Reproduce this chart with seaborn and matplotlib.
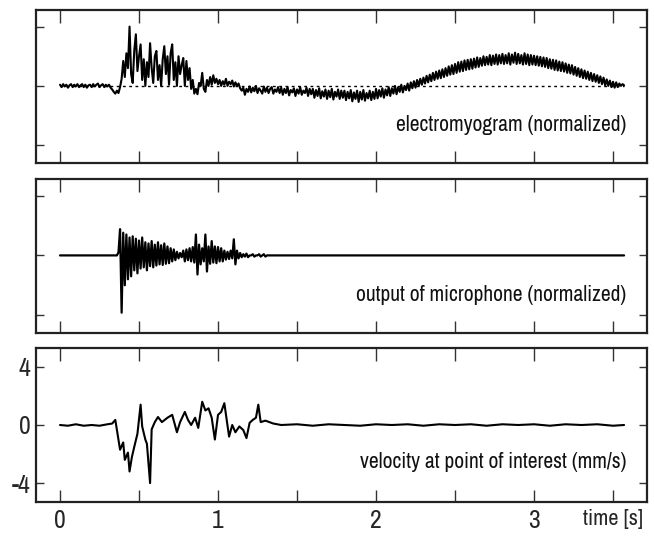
import numpy as np
import pandas as pd
import matplotlib
matplotlib.use("Agg")
import matplotlib.pyplot as plt
import seaborn as sns

# ---------------- data ----------------
emg_dt = 0.01  # sample spacing of the EMG trace [s]
emg_values = [
    0.02, -0.02, 0.03, -0.01, 0.02, -0.03, 0.01, 0.03, -0.02, 0.02, -0.01, 0.03, -0.02, 0.01, 0.03, -0.02, 0.02, -0.03, 0.01, 0.02,
    -0.02, 0.03, -0.01, 0.02, 0.04, -0.02, 0.01, 0.03, -0.02, 0.02, -0.01, 0.02, -0.03, -0.06, -0.10, -0.13, -0.08, -0.12, -0.02, 0.12,
    0.42, 0.15, 0.55, 0.30, 1.00, 0.20, 0.05, 0.60, 0.87, 0.25, 0.50, 0.70, 0.10, 0.45, 0.00, 0.40, 0.15, 0.72, 0.30, 0.05,
    0.50, 0.59, 0.10, 0.35, 0.00, 0.45, 0.67, 0.20, 0.50, 0.02, 0.55, 0.70, 0.10, 0.40, 0.00, 0.50, 0.20, 0.35, 0.47, 0.00,
    0.42, 0.10, 0.30, -0.05, 0.10, -0.13, -0.05, -0.14, 0.05, 0.00, 0.22, -0.05, -0.10, 0.10, 0.00, 0.15, 0.02, 0.18, 0.05, 0.12,
    0.03, 0.10, 0.00, 0.08, 0.02, 0.12, 0.00, 0.07, 0.03, 0.09, -0.01, 0.06, 0.00, 0.04, -0.04, -0.08, -0.03, -0.15, -0.05, -0.10,
    -0.01, -0.11, -0.03, -0.09, 0.00, -0.12, -0.04, -0.08, -0.13, -0.01, -0.10, -0.03, -0.12, -0.05, -0.02, -0.13, -0.06, -0.10, -0.02, -0.12,
    -0.03, -0.15, -0.05, -0.12, -0.02, -0.16, -0.07, -0.11, -0.04, -0.17, -0.06, -0.13, -0.02, -0.15, -0.08, -0.12, -0.03, -0.17, -0.05, -0.14,
    -0.05, -0.20, -0.07, -0.17, -0.04, -0.21, -0.09, -0.18, -0.06, -0.22, -0.08, -0.19, -0.05, -0.23, -0.10, -0.18, -0.06, -0.22, -0.08, -0.20,
    -0.08, -0.24, -0.10, -0.21, -0.07, -0.26, -0.11, -0.22, -0.08, -0.27, -0.10, -0.23, -0.07, -0.25, -0.12, -0.21, -0.08, -0.24, -0.10, -0.22,
    -0.05, -0.21, -0.07, -0.18, -0.04, -0.20, -0.06, -0.16, -0.02, -0.17, -0.04, -0.13, 0.00, -0.14, -0.02, -0.10, 0.02, -0.11, 0.00, -0.07,
    0.04, -0.08, 0.06, -0.04, 0.08, -0.03, 0.10, 0.00, 0.12, 0.02, 0.14, 0.04, 0.17, 0.06, 0.19, 0.08, 0.22, 0.10, 0.24, 0.12,
    0.26, 0.13, 0.28, 0.15, 0.30, 0.17, 0.33, 0.19, 0.35, 0.20, 0.37, 0.22, 0.40, 0.24, 0.41, 0.25, 0.43, 0.27, 0.44, 0.28,
    0.45, 0.29, 0.46, 0.31, 0.48, 0.32, 0.47, 0.34, 0.50, 0.35, 0.49, 0.36, 0.52, 0.35, 0.51, 0.37, 0.53, 0.36, 0.52, 0.38,
    0.54, 0.37, 0.52, 0.38, 0.55, 0.36, 0.53, 0.39, 0.56, 0.37, 0.54, 0.38, 0.52, 0.36, 0.55, 0.37, 0.53, 0.35, 0.52, 0.36,
    0.51, 0.35, 0.50, 0.34, 0.49, 0.33, 0.48, 0.32, 0.47, 0.30, 0.45, 0.29, 0.44, 0.27, 0.43, 0.26, 0.41, 0.25, 0.40, 0.24,
    0.38, 0.22, 0.36, 0.21, 0.35, 0.19, 0.32, 0.17, 0.30, 0.15, 0.28, 0.13, 0.26, 0.12, 0.24, 0.10, 0.22, 0.08, 0.20, 0.07,
    0.18, 0.05, 0.16, 0.03, 0.14, 0.01, 0.11, 0.00, 0.09, -0.02, 0.07, -0.03, 0.06, -0.02, 0.04, 0.00, 0.03, 0.01,
]

mic_start = 0.36   # first sample of the active microphone segment [s]
mic_dt = 0.01
mic_values = [
    0.00, 0.05, 0.44, -0.96, 0.38, -0.50, 0.35, -0.40, 0.30, -0.35,
    0.32, -0.25, 0.28, -0.30, 0.25, -0.22, 0.30, -0.20, 0.22, -0.25,
    0.20, -0.18, 0.24, -0.20, 0.18, -0.17, 0.22, -0.15, 0.17, -0.16,
    0.20, -0.14, 0.15, -0.13, 0.12, -0.10, 0.10, -0.08, 0.06, -0.05,
    0.04, -0.03, 0.08, -0.10, 0.10, -0.08, 0.12, -0.10, 0.14, -0.12,
    0.35, -0.32, 0.18, -0.15, 0.12, -0.10, 0.35, -0.27, 0.15, -0.14,
    0.24, -0.12, 0.15, -0.13, 0.14, -0.10, 0.12, -0.10, 0.08, -0.07,
    0.06, -0.06, 0.08, -0.05, 0.27, -0.15, 0.08, -0.05, 0.04, -0.03,
    0.02, -0.02, 0.03, -0.03, 0.00, 0.00, 0.02, -0.02, 0.00, 0.00,
    0.02, -0.02, 0.00, 0.02, -0.02, 0.00, 0.00,
]
mic_end = 3.57

vel_time = [
    0.00, 0.05, 0.10, 0.15, 0.20, 0.25, 0.30, 0.33, 0.35, 0.38,
    0.40, 0.41, 0.43, 0.44, 0.455, 0.47, 0.49, 0.51, 0.52, 0.54,
    0.55, 0.57, 0.58, 0.60, 0.62, 0.645, 0.68, 0.71, 0.74, 0.76,
    0.79, 0.81, 0.83, 0.855, 0.875, 0.90, 0.92, 0.94, 0.96, 0.98,
    1.00, 1.02, 1.04, 1.055, 1.07, 1.09, 1.11, 1.135, 1.16, 1.18,
    1.20, 1.22, 1.24, 1.255, 1.27, 1.30, 1.35, 1.40, 1.50, 1.60,
    1.70, 1.80, 1.90, 2.00, 2.10, 2.20, 2.30, 2.40, 2.50, 2.60,
    2.70, 2.80, 2.90, 3.00, 3.10, 3.20, 3.30, 3.40, 3.50, 3.57,
]
vel_values = [
    0.00, -0.05, 0.05, -0.05, 0.00, -0.05, 0.05, 0.10, 0.35, -1.70,
    -1.20, -2.40, -1.90, -3.20, -2.20, -1.50, -0.60, 1.40, -0.10, -1.00,
    -1.30, -4.00, -0.30, 0.20, 0.55, 0.20, 0.50, 0.70, -0.50, 0.20,
    0.90, 0.35, 0.00, 0.50, -0.20, 1.60, 1.00, 1.15, 0.50, -1.00,
    0.70, 0.90, 1.50, 0.35, -0.80, 0.00, -0.50, -0.10, -0.35, -0.90,
    0.15, 0.35, 0.50, 1.40, 0.20, 0.30, 0.10, 0.00, 0.05, -0.05,
    0.05, 0.00, -0.05, 0.05, 0.00, 0.05, -0.05, 0.05, 0.00, 0.05,
    -0.05, 0.05, 0.00, 0.05, -0.05, 0.05, 0.00, 0.05, -0.05, 0.00,
]

panel_labels = [
    "electromyogram (normalized)",
    "output of microphone (normalized)",
    "velocity at point of interest (mm/s)",
]
x_ticks = [0, 0.5, 1, 1.5, 2, 2.5, 3, 3.5]
x_tick_labels = ["0", "", "1", "", "2", "", "3", "time [s]"]
vel_ticks = [-4, 0, 4]
vel_tick_labels = ["-4", "0", "4"]
norm_ticks = [-1, 0, 1]

# ---------------- tables ----------------
emg_t = np.arange(len(emg_values)) * emg_dt
emg_df = pd.DataFrame({"t": emg_t, "v": emg_values})
mic_t = [0.0] + list(mic_start + np.arange(len(mic_values)) * mic_dt) + [mic_end]
mic_df = pd.DataFrame({"t": mic_t, "v": [0.0] + mic_values + [0.0]})
vel_df = pd.DataFrame({"t": vel_time, "v": vel_values})

# ---------------- style ----------------
sns.set_style("ticks")
plt.rcParams["font.family"] = ["Archivo Narrow", "Liberation Sans", "DejaVu Sans"]

W, H = 654, 539
fig = plt.figure(figsize=(W / 100, H / 100), dpi=100)

def rect(top, bottom, left=36, right=647):
    return [left / W, 1 - bottom / H, (right - left) / W, (bottom - top) / H]

ax1 = fig.add_axes(rect(10, 163))
ax2 = fig.add_axes(rect(179, 333))
ax3 = fig.add_axes(rect(348, 502))

xlim = (-0.152, 3.715)

sns.lineplot(data=emg_df, x="t", y="v", ax=ax1, zorder=2, color="black", linewidth=1.5,
             estimator=None, sort=False)
ax1.plot([0, emg_t[-1]], [0, 0], color="black", linestyle=(0, (2, 2.5)), linewidth=1.0, zorder=1)
ax1.set_ylim(-1.3, 1.28)
sns.lineplot(data=mic_df, x="t", y="v", ax=ax2, color="black", linewidth=1.6,
             estimator=None, sort=False)
ax2.set_ylim(-1.3, 1.28)
sns.lineplot(data=vel_df, x="t", y="v", ax=ax3, color="black", linewidth=1.5,
             estimator=None, sort=False)
ax3.set_ylim(-5.3, 5.3)

for ax, lab, ytxt in zip([ax1, ax2, ax3], panel_labels, [-0.66, -0.66, -2.55]):
    ax.set_xlim(*xlim)
    ax.set_xlabel("")
    ax.set_ylabel("")
    ax.set_xticks(x_ticks)
    ax.tick_params(axis="x", direction="in", length=9, width=1.0, top=True, bottom=True,
                   color="#333333", labelsize=18.5, pad=5)
    ax.tick_params(axis="y", direction="in", length=6, width=1.0, left=True, right=True,
                   color="#333333", labelsize=18.5, pad=4)
    for s in ax.spines.values():
        s.set_linewidth(1.6)
        s.set_color("#222222")
        s.set_visible(True)
    ax.text(3.585, ytxt, lab, ha="right", va="center", fontsize=15.5, color="#111111")

for ax in (ax1, ax2):
    ax.set_yticks(norm_ticks)
    ax.set_yticklabels([])
    ax.set_xticklabels([])

ax3.set_yticks(vel_ticks)
ax3.set_yticklabels(vel_tick_labels)
ax3.set_xticklabels(x_tick_labels)
# "time [s]" is smaller than the numeric labels in the reference
ax3.get_xticklabels()[-1].set_fontsize(16)

fig.savefig("out.png", dpi=100)
